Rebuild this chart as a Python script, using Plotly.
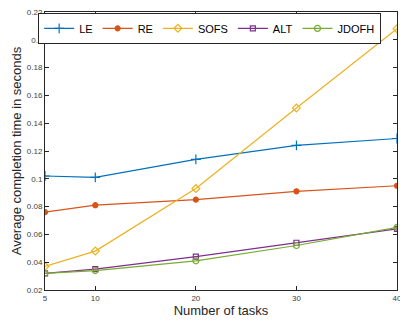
import plotly.graph_objects as go

tasks = [5, 10, 20, 30, 40]
le = [0.102, 0.101, 0.114, 0.124, 0.129]
re = [0.076, 0.081, 0.085, 0.091, 0.095]
sofs = [0.037, 0.048, 0.093, 0.151, 0.208]
alt = [0.032, 0.035, 0.044, 0.054, 0.064]
jdofh = [0.032, 0.034, 0.041, 0.052, 0.065]

y_ticks = [0.02, 0.04, 0.06, 0.08, 0.1, 0.12, 0.14, 0.16, 0.18, 0.2, 0.22]
y_labels = ["0.02", "0.04", "0.06", "0.08", "0.1", "0.12", "0.14", "0.16", "0.18", "0.2", "0.22"]

series = [
    ("LE", le, "#0072BD", "cross-thin-open", 7),
    ("RE", re, "#D95319", "circle", 5),
    ("SOFS", sofs, "#EDB120", "diamond-open", 6),
    ("ALT", alt, "#7E2F8E", "square-open", 5),
    ("JDOFH", jdofh, "#77AC30", "circle-open", 6),
]

fig = go.Figure()
for name, vals, color, sym, size in series:
    fig.add_trace(go.Scatter(
        x=tasks, y=vals, name=name, mode="lines+markers",
        line=dict(color=color, width=1.2),
        marker=dict(symbol=sym, size=size, color=color,
                    line=dict(color=color, width=1.2)),
    ))

fig.update_layout(
    width=400, height=320,
    margin=dict(l=45, r=3, t=12, b=30, autoexpand=False),
    paper_bgcolor="white", plot_bgcolor="white",
    font=dict(family="Liberation Sans, Arial, sans-serif", color="#262626"),
    showlegend=True,
    legend=dict(orientation="h", x=0.955, xanchor="right", y=0.997, yanchor="top",
                bordercolor="#262626", borderwidth=1, bgcolor="white",
                font=dict(size=11, color="black"), itemwidth=30,
                tracegroupgap=0),
)
fig.update_xaxes(
    range=[5, 40], tickvals=tasks, ticktext=[str(t) for t in tasks],
    ticks="inside", ticklen=4, tickcolor="#262626", showline=True, linecolor="#262626",
    linewidth=1, mirror="ticks", showgrid=False, zeroline=False, automargin=False,
    ticklabeloverflow="allow",
    tickfont=dict(size=8, color="#404040"),
    title=dict(text="Number of tasks", font=dict(size=13, color="#262626"), standoff=2),
)
fig.update_yaxes(
    range=[0.02, 0.22], tickvals=y_ticks, ticktext=y_labels,
    ticks="inside", ticklen=4, tickcolor="#262626", showline=True, linecolor="#262626",
    linewidth=1, mirror="ticks", showgrid=False, zeroline=False, automargin=False,
    ticklabeloverflow="allow",
    tickfont=dict(size=8, color="#404040"),
    title=dict(text="Average completion time in seconds", font=dict(size=13, color="#262626"), standoff=2),
)

fig.write_html("out.html", config={"displayModeBar": False},
               post_script="document.body.style.margin='0';document.body.style.overflow='hidden';")
